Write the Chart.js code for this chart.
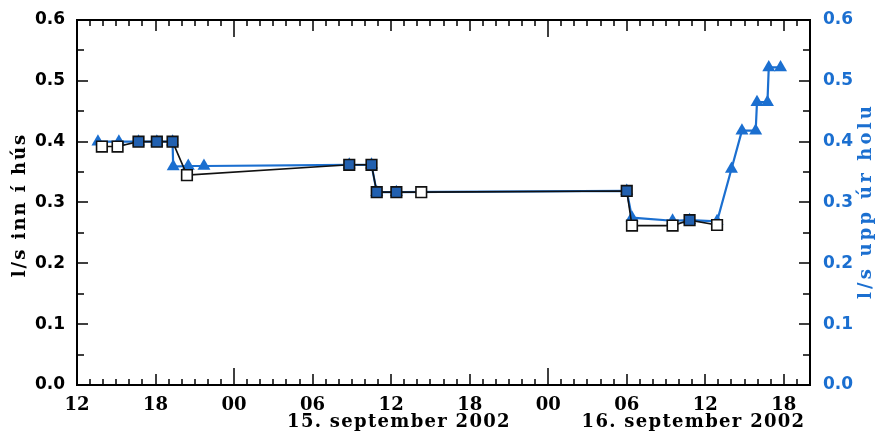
<!DOCTYPE html>
<html>
<head>
<meta charset="utf-8">
<title>Rennsli inn í hús / upp úr holu</title>
<script src="https://cdn.jsdelivr.net/npm/chart.js@4.4.1/dist/chart.umd.min.js"></script>
<style>
    html, body { margin: 0; padding: 0; background: #fff; }
    #wrap { width: 877px; height: 435px; }
</style>
</head>
<body>
<div id="wrap"><canvas id="flowChart" width="877" height="435"></canvas></div>
<script>
// ─── Data (hours after 12:00, 14. september 2002) ─────────────────────────────
const inHours   = [1.9, 3.1, 4.7, 6.1, 7.3, 8.4, 20.8, 22.5, 22.9, 24.4, 26.3, 42.0, 42.4, 45.5, 46.8, 48.9];
const inValues  = [0.392, 0.392, 0.400, 0.400, 0.400, 0.345, 0.362, 0.362, 0.317, 0.317, 0.317, 0.319, 0.262, 0.262, 0.271, 0.263];

const outHours  = [1.6, 3.2, 4.7, 6.1, 7.3, 7.35, 8.5, 9.7, 20.8, 22.5, 22.9, 24.4, 42.0, 42.4, 45.5, 46.8, 48.9, 50.0, 50.8, 51.85, 51.95, 52.75, 52.85, 53.75];
const outValues = [0.400, 0.400, 0.400, 0.400, 0.400, 0.359, 0.360, 0.360, 0.362, 0.362, 0.317, 0.317, 0.319, 0.275, 0.270, 0.271, 0.269, 0.355, 0.418, 0.418, 0.465, 0.465, 0.522, 0.522];

const xTickLabels = ['12', '18', '00', '06', '12', '18', '00', '06', '12', '18'];
const dateLabels  = ['15. september 2002', '16. september 2002'];
const yTitleIn  = 'l/s inn í hús';
const yTitleOut = 'l/s upp úr holu';

const BLUE = '#1b6fd0';
const SQUARE_BLUE = '#2160b0';

// ─── Inward tick marks, frame, date row and axis titles ──────────────────────
const frameAndTicks = {
    id: 'frameAndTicks',
    afterDraw(chart) {
        const { ctx, chartArea: a, scales } = chart;
        const xs = scales.x, ys = scales.yIn;
        ctx.save();

        ctx.strokeStyle = '#000';
        ctx.lineWidth = 1.5;
        ctx.beginPath();
        for (let h = 0; h <= 56; h++) {
            const px = Math.round(xs.getPixelForValue(h));
            const len = (h % 24 === 12) ? 17 : (h % 6 === 0 ? 11 : 6);
            ctx.moveTo(px, a.bottom); ctx.lineTo(px, a.bottom - len);
            ctx.moveTo(px, a.top);    ctx.lineTo(px, a.top + len);
        }
        for (let k = 0; k <= 12; k++) {
            const py = Math.round(ys.getPixelForValue(k * 0.05));
            const len = k % 2 === 0 ? 11 : 7;
            ctx.moveTo(a.left, py);  ctx.lineTo(a.left + len, py);
            ctx.moveTo(a.right, py); ctx.lineTo(a.right - len, py);
        }
        ctx.stroke();

        ctx.lineWidth = 2;
        ctx.strokeRect(a.left, a.top, a.right - a.left, a.bottom - a.top);

        // date row under the hour labels
        ctx.fillStyle = '#000';
        ctx.font = 'bold 18px "DejaVu Serif"';
        ctx.letterSpacing = '1.3px';
        ctx.textAlign = 'center';
        ctx.textBaseline = 'middle';
        ctx.fillText(dateLabels[0], xs.getPixelForValue(24.6), 422);
        ctx.fillText(dateLabels[1], xs.getPixelForValue(47.1), 422);

        // axis titles, reading bottom to top
        ctx.font = 'bold 18px "DejaVu Serif"';
        ctx.letterSpacing = '2px';
        ctx.translate(20, 205);
        ctx.rotate(-Math.PI / 2);
        ctx.fillText(yTitleIn, 0, 0);
        ctx.setTransform(1, 0, 0, 1, 0, 0);
        ctx.fillStyle = BLUE;
        ctx.letterSpacing = '3.2px';
        ctx.translate(866, 201);
        ctx.rotate(-Math.PI / 2);
        ctx.fillText(yTitleOut, 0, 0);

        ctx.restore();
    }
};

// black squares get a blue fill where a blue point sits underneath
function squareFill(c) {
    const i = c.dataIndex;
    if (i === undefined) return '#fff';
    const hit = outHours.some((h, j) =>
        Math.abs(h - inHours[i]) < 0.05 && Math.abs(outValues[j] - inValues[i]) < 0.006);
    return hit ? SQUARE_BLUE : '#fff';
}

const ctx = document.getElementById('flowChart').getContext('2d');
new Chart(ctx, {
    type: 'line',
    data: {
        datasets: [
            {
                label: yTitleIn,
                data: inHours.map((h, i) => ({ x: h, y: inValues[i] })),
                yAxisID: 'yIn',
                borderColor: '#111',
                borderWidth: 1.6,
                pointStyle: 'rect',
                pointRadius: 7.5,
                pointBorderWidth: 1.6,
                pointBorderColor: '#111',
                pointBackgroundColor: squareFill,
                tension: 0
            },
            {
                label: yTitleOut,
                data: outHours.map((h, i) => ({ x: h, y: outValues[i] })),
                yAxisID: 'yOut',
                borderColor: BLUE,
                borderWidth: 2.2,
                pointStyle: 'triangle',
                pointRadius: 7.5,
                pointBorderWidth: 0,
                pointBackgroundColor: BLUE,
                tension: 0
            }
        ]
    },
    options: {
        responsive: false,
        animation: false,
        devicePixelRatio: 1,
        layout: { padding: { top: 20, left: 0, right: 0, bottom: 0 } },
        plugins: { legend: { display: false }, tooltip: { enabled: false } },
        scales: {
            x: {
                type: 'linear',
                min: 0,
                max: 56,
                grid: { display: false },
                border: { display: false },
                ticks: {
                    stepSize: 6,
                    includeBounds: false,
                    maxRotation: 0,
                    autoSkip: false,
                    padding: 2,
                    color: '#000',
                    font: { family: 'DejaVu Serif', size: 18, weight: 'bold' },
                    callback: v => xTickLabels[Math.round(v / 6)] ?? ''
                },
                afterFit: s => { s.height = 50; }
            },
            yIn: {
                position: 'left',
                min: 0,
                max: 0.6,
                grid: { display: false },
                border: { display: false },
                ticks: {
                    stepSize: 0.1,
                    padding: 4,
                    color: '#000',
                    font: { family: 'DejaVu Sans', size: 17, weight: 'bold' },
                    callback: v => v.toFixed(1)
                },
                afterFit: s => { s.width = 77; }
            },
            yOut: {
                position: 'right',
                min: 0,
                max: 0.6,
                grid: { display: false },
                border: { display: false },
                ticks: {
                    stepSize: 0.1,
                    padding: 5,
                    color: BLUE,
                    font: { family: 'DejaVu Sans', size: 17, weight: 'bold' },
                    callback: v => v.toFixed(1)
                },
                afterFit: s => { s.width = 67; }
            }
        }
    },
    plugins: [frameAndTicks]
});
</script>
</body>
</html>
